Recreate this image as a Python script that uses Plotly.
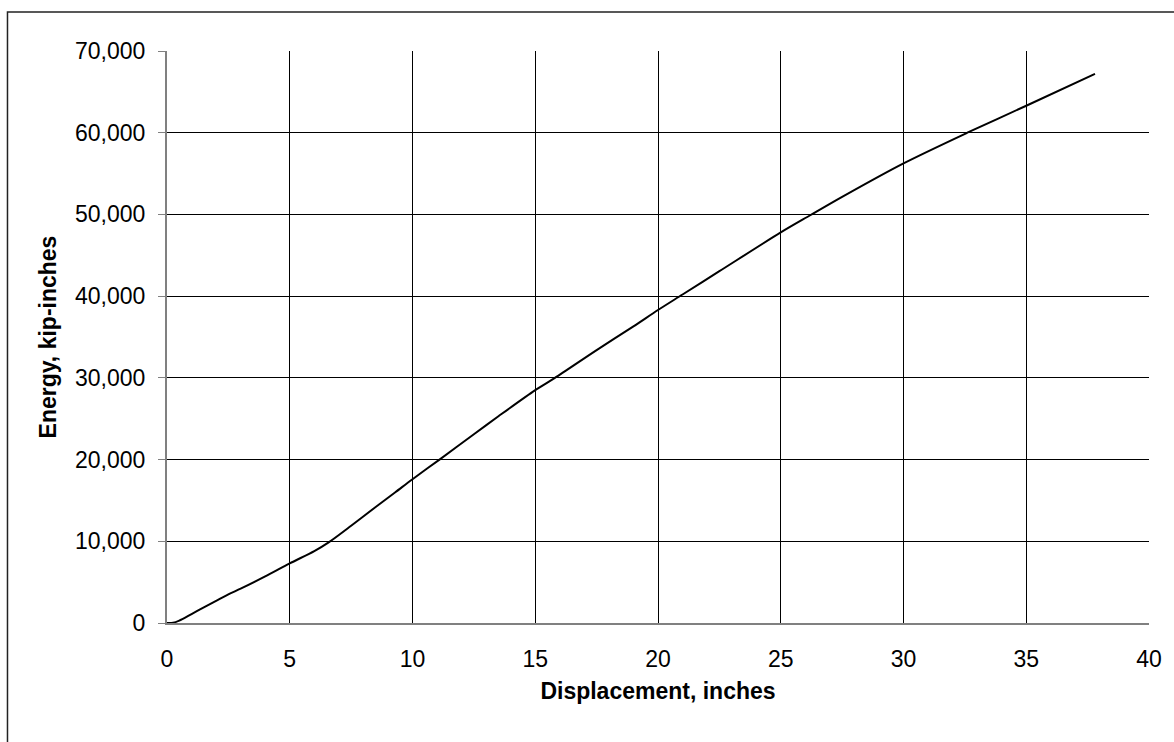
import plotly.graph_objects as go

displacement = [0.0, 0.25, 0.5, 1.0, 1.5, 2.0, 2.5, 3.0, 4.0, 5.0, 6.0, 6.6, 7.5, 8.5, 9.3, 10.0,
                11.1, 12.5, 13.5, 15.0, 15.8, 17.5, 19.0, 20.0, 21.0, 22.5, 25.0, 26.2, 27.5,
                30.0, 32.6, 35.0, 37.8]
energy = [0, 30, 300, 1100, 1900, 2700, 3500, 4200, 5700, 7300, 8800, 9900, 11900, 14200, 16000, 17600,
          20000, 23100, 25300, 28500, 30000, 33400, 36300, 38300, 40200, 43050, 47800, 49900, 52150,
          56250, 60000, 63300, 67200]

x_ticks = [0, 5, 10, 15, 20, 25, 30, 35, 40]
y_ticks = [0, 10000, 20000, 30000, 40000, 50000, 60000, 70000]
y_labels = ["0", "10,000", "20,000", "30,000", "40,000", "50,000", "60,000", "70,000"]

FONT = "Liberation Sans, Arial, sans-serif"

fig = go.Figure()
fig.add_trace(go.Scatter(x=displacement, y=energy, mode="lines",
                         line=dict(color="black", width=2, shape="spline", smoothing=0.8),
                         showlegend=False))

fig.update_layout(
    width=1174, height=742,
    margin=dict(l=167, r=22, t=51, b=119),
    paper_bgcolor="white", plot_bgcolor="white",
    font=dict(family=FONT, color="black", size=23),
    xaxis=dict(range=[0, 40], tickvals=x_ticks, ticktext=[str(v) for v in x_ticks],
               showgrid=True, gridcolor="black", gridwidth=1,
               showline=True, linecolor="#808080", linewidth=2,
               ticks="", zeroline=False, ticklabelstandoff=14,
               tickfont=dict(size=23, family=FONT),
               title=dict(text="<b>Displacement, inches</b>", font=dict(size=23, family=FONT), standoff=12)),
    yaxis=dict(range=[0, 70000], tickvals=y_ticks, ticktext=y_labels,
               showgrid=True, gridcolor="black", gridwidth=1,
               showline=True, linecolor="#808080", linewidth=2,
               ticks="outside", ticklen=7, tickcolor="#808080", tickwidth=1,
               zeroline=False, ticklabelstandoff=8,
               tickfont=dict(size=23, family=FONT),
               title=dict(text="<b>Energy, kip-inches</b>", font=dict(size=23, family=FONT), standoff=12)),
    shapes=[dict(type="rect", xref="paper", yref="paper",
                 x0=(7 - 167) / 985, x1=1.2, y0=-0.5, y1=(623 - 12) / 572,
                 line=dict(color="#222222", width=1.5), fillcolor="rgba(0,0,0,0)", layer="below")],
)

fig.write_html("out.html")
